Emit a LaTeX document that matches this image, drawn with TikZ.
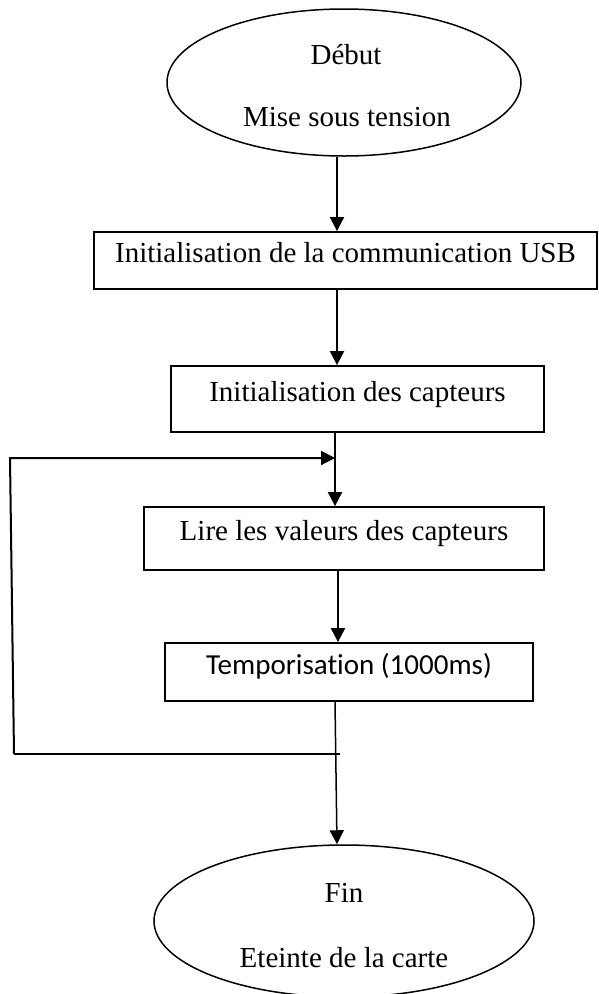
\documentclass[tikz,border=0pt]{standalone}
\usepackage{fontspec}
\setmainfont{Liberation Serif}
\newfontfamily\calibrifont[Ligatures=NoCommon]{Carlito}
\usetikzlibrary{arrows.meta,shapes.geometric}

\tikzset{
  flowtext/.style={font=\fontsize{29}{35}\selectfont, text=black},
  stepbox/.style={flowtext, draw=black, line width=1.8pt, rectangle, inner sep=0pt,
                  text height=0.68em, text depth=0.22em},
  termnode/.style={draw=black, line width=1.5pt, ellipse, inner sep=0pt},
  flowarrow/.style={line width=2pt, -{Triangle[length=14pt,width=14pt]}},
  loopline/.style={line width=2pt},
}

\begin{document}
\begin{tikzpicture}[x=1pt, y=-1pt]
  \useasboundingbox (0,0) rectangle (599,994);

  % column through which the vertical connectors run
  \coordinate (ax) at (337,0);

  % start terminal
  \node[termnode, minimum width=354pt, minimum height=147pt] (start) at (344,82.5) {};
  \node[flowtext, anchor=base] (startA) at (346,64) {Début};
  \node[flowtext, anchor=base] (startB) at (347,126) {Mise sous tension};

  % process steps
  \node[stepbox, minimum width=503pt, minimum height=57pt] (usb) at (345.5,260.5)
       {Initialisation de la communication USB};
  \node[stepbox, minimum width=373pt, minimum height=66pt] (cap) at (357.5,399)
       {Initialisation des capteurs};
  \node[stepbox, minimum width=400pt, minimum height=63pt] (lire) at (344,538.5)
       {Lire les valeurs des capteurs};
  \node[stepbox, font=\calibrifont\fontsize{29}{35}\selectfont,
        minimum width=368pt, minimum height=58pt] (tempo) at (349,672)
       {Temporisation (1000ms)};

  % end terminal
  \node[termnode, minimum width=380pt, minimum height=152pt] (fin) at (344,921) {};
  \node[flowtext, anchor=base] (finA) at (344,902) {Fin};
  \node[flowtext, anchor=base] (finB) at (344,967) {Eteinte de la carte};

  % main flow
  \draw[flowarrow] (start.south -| ax) -- (usb.north -| ax);
  \draw[flowarrow] (usb.south -| ax) -- (cap.north -| ax);
  \draw[flowarrow] ([xshift=-2pt]cap.south -| ax) -- ([xshift=-2pt]lire.north -| ax);
  \draw[flowarrow] ([xshift=1pt]lire.south -| ax) -- ([xshift=1pt]tempo.north -| ax);
  \draw[flowarrow, line width=1.5pt] ([xshift=-2pt]tempo.south -| ax) -- (fin.north -| ax);

  % loop back to the measurement step
  \coordinate (jout) at (340,754);
  \coordinate (lowleft) at (14,754);
  \coordinate (upleft) at (10,458);
  \coordinate (jin) at (335,458);
  \draw[loopline, line width=1.5pt] (jout) -- (lowleft);
  \draw[flowarrow] (lowleft) -- (upleft) -- (jin);
\end{tikzpicture}
\end{document}
